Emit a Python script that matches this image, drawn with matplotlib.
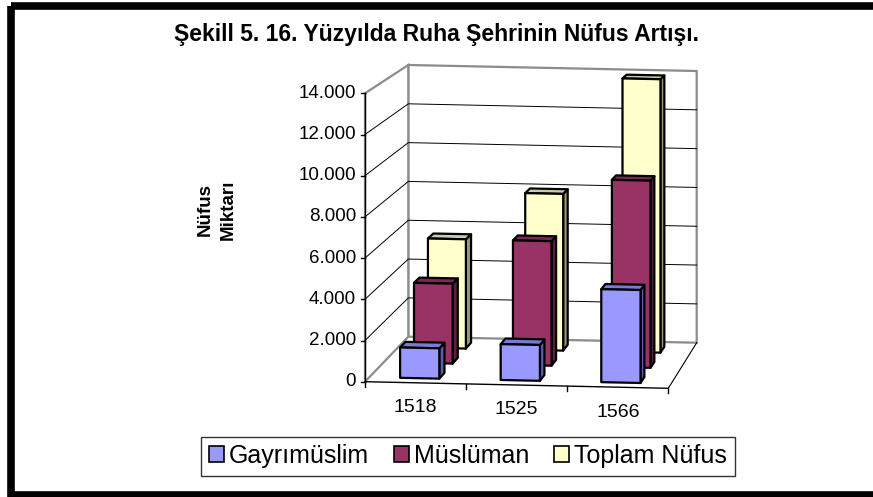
import matplotlib
matplotlib.use("Agg")
import matplotlib.pyplot as plt
from matplotlib.patches import Polygon, Rectangle, Patch

plt.rcParams['font.family'] = ['Liberation Sans', 'DejaVu Sans']

# ---- data ----
categories = ['1518', '1525', '1566']
series_names = ['Gayrımüslim', 'Müslüman', 'Toplam Nüfus']
gayrimuslim = [1480, 1750, 4540]
musluman = [3980, 6200, 9320]
toplam = [5550, 7960, 13890]
yticks = [0, 2000, 4000, 6000, 8000, 10000, 12000, 14000]
ytick_labels = ['0', '2.000', '4.000', '6.000', '8.000', '10.000', '12.000', '14.000']
title = 'Şekill 5. 16. Yüzyılda Ruha Şehrinin Nüfus Artışı.'
ylabel = 'Nüfus\nMiktarı'

series = [gayrimuslim, musluman, toplam]
front_cols = ['#9999FF', '#993366', '#FFFFCC']
top_cols = ['#7A7AD6', '#7A2952', '#CCCCA3']
side_cols = ['#5C5CA8', '#5C1F3D', '#99997A']

W, H = 873, 497
fig = plt.figure(figsize=(W / 100, H / 100), dpi=100)
ax = fig.add_axes([0, 0, 1, 1])
ax.set_xlim(0, W)
ax.set_ylim(H, 0)
ax.axis('off')

VMAX = 14000.0


def proj(u, d, v):
    """oblique 3D projection: u across categories, d depth, v value"""
    fx, fy = 365 + u * 303.3, 381.7 + u * 6.6
    bx, by = 408.3 + u * 288.4, 336.7 + u * 6.0
    x = fx + d * (bx - fx)
    y0 = fy + d * (by - fy)
    s = (288.4 + d * (271.7 - 288.4)) / VMAX
    return (x, y0 - v * s)


GRAY = '#8C8C8C'
# walls
back = [proj(0, 1, 0), proj(1, 1, 0), proj(1, 1, VMAX), proj(0, 1, VMAX)]
ax.add_patch(Polygon(back, closed=True, facecolor='white', edgecolor=GRAY, lw=1.6, zorder=1))
left = [proj(0, 0, 0), proj(0, 1, 0), proj(0, 1, VMAX), proj(0, 0, VMAX)]
ax.add_patch(Polygon(left, closed=True, facecolor='white', edgecolor=GRAY, lw=1.6, zorder=1))

# gridlines
for v in yticks[1:-1]:
    pts = [proj(0, 0, v), proj(0, 1, v), proj(1, 1, v)]
    ax.plot([p[0] for p in pts], [p[1] for p in pts], color='black', lw=0.7, zorder=2)

# floor edges
p0, p1 = proj(1, 0, 0), proj(1, 1, 0)
ax.plot([p0[0], p1[0]], [p0[1], p1[1]], color='black', lw=0.8, zorder=2)
p0, p1 = proj(0, 0, 0), proj(1, 0, 0)
ax.plot([p0[0], p1[0]], [p0[1], p1[1]], color='black', lw=1.0, zorder=6)

# value axis
p0, p1 = proj(0, 0, 0), proj(0, 0, VMAX)
ax.plot([p0[0], p1[0]], [p0[1], p1[1]], color='black', lw=1.0, zorder=6)
for v, lab in zip(yticks, ytick_labels):
    x, y = proj(0, 0, v)
    ax.plot([x - 4, x], [y, y], color='black', lw=1.0, zorder=6)
    ax.text(x - 9, y, lab, ha='right', va='center', fontsize=13.5, zorder=7)

# category ticks & labels
n = len(categories)
for k in range(n + 1):
    x, y = proj(k / n, 0, 0)
    ax.plot([x, x], [y, y + 5], color='black', lw=1.0, zorder=6)
for i, c in enumerate(categories):
    x, y = proj((i + 0.5) / n, 0, 0)
    ax.text(x, y + 25, c, ha='center', va='center', fontsize=14, zorder=7)

# bars
bw = 0.13
bd = 0.13
for j in reversed(range(len(series))):
    for i in range(n):
        v = series[j][i]
        u0 = (i + 0.5) / n - bw / 2
        u1 = u0 + bw
        d0 = (j + 0.5) / 3 - bd / 2
        d1 = d0 + bd
        z = 3 + (2 - j) * 0.1
        side = [proj(u1, d0, 0), proj(u1, d1, 0), proj(u1, d1, v), proj(u1, d0, v)]
        top = [proj(u0, d0, v), proj(u1, d0, v), proj(u1, d1, v), proj(u0, d1, v)]
        front = [proj(u0, d0, 0), proj(u1, d0, 0), proj(u1, d0, v), proj(u0, d0, v)]
        for poly, col in ((side, side_cols[j]), (top, top_cols[j]), (front, front_cols[j])):
            ax.add_patch(Polygon(poly, closed=True, facecolor=col, edgecolor='black',
                                 lw=1.6, joinstyle='round', zorder=z))

# title and y label
ax.text(437, 34, title, ha='center', va='center', fontsize=16.5, fontweight='bold')
ax.text(217, 210, ylabel, ha='center', va='center', fontsize=13.5, fontweight='bold',
        rotation=90, linespacing=1.45)

# legend
handles = [Patch(facecolor=front_cols[k], edgecolor='black', lw=1.2) for k in range(3)]
fig.legend(handles, series_names, loc='center', bbox_to_anchor=(468 / W, 1 - 456 / H),
           ncol=3, fontsize=18, frameon=True, fancybox=False, edgecolor='black',
           handlelength=0.6, handleheight=0.6, handletextpad=0.2, columnspacing=1.0,
           borderpad=0.3, borderaxespad=0)

# outer border
ax.add_patch(Rectangle((11, 5.5), 880, 489.5, fill=False, edgecolor='black', lw=5.5, zorder=10))

fig.savefig('out.png', dpi=100)
